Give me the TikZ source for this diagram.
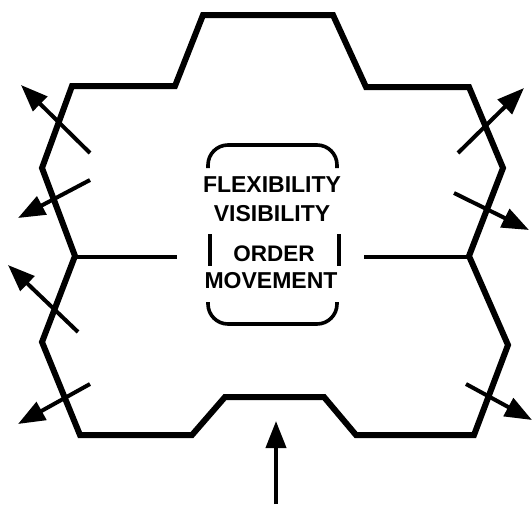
\documentclass[tikz,border=0pt]{standalone}
\usepackage{fontspec}
\setmainfont{Liberation Sans}
\usetikzlibrary{arrows.meta}
\tikzset{
  wall/.style={line width=6pt, line join=miter},
  flow/.style={line width=4pt, -{Triangle[length=27pt,width=20pt]}},
  frame/.style={line width=3.6pt},
  word/.style={font=\bfseries\fontsize{23}{23}\selectfont, inner sep=0pt}
}

\begin{document}
\begin{tikzpicture}[x=1pt,y=-1pt]
\useasboundingbox (0,0) rectangle (532,504);
% outline
\draw[wall] (203,15) -- (333,15) -- (366,87) -- (469,87) -- (503,168) -- (469,256)
  -- (508,345) -- (474,435) -- (356,435) -- (324,397) -- (225,397) -- (192,435)
  -- (80,435) -- (42,342) -- (75,256) -- (42,168) -- (72,86) -- (175,86) -- cycle;
\draw[frame, line width=4.5pt] (75,257) -- (177,257);
\draw[frame, line width=4.5pt] (364,257) -- (469,257);
% arrows out
\draw[flow] (90,153) -- (21,85);
\draw[flow] (90,180) -- (18,218);
\draw[flow] (78,332) -- (8,265);
\draw[flow] (90,384) -- (18,424);
\draw[flow] (458,153) -- (524,88);
\draw[flow] (454,193) -- (529,230);
\draw[flow] (466,384) -- (532,420);
\draw[flow] (276,504) -- (276,421);
% brackets
\draw[frame, rounded corners=20pt] (208,168) -- (208,145) -- (337,145) -- (337,168);
\draw[frame, rounded corners=20pt] (208,302) -- (208,324) -- (337,324) -- (337,302);
\draw[frame] (210,234) -- (210,266);
\draw[frame] (339,234) -- (339,266);
% text
\node[word] (flex) at (272,185) {FLEXIBILITY};
\node[word] (vis) at (272,214) {VISIBILITY};
\node[word, font=\bfseries\fontsize{22.5}{22.5}\selectfont] (ord) at (274,254) {ORDER};
\node[word] (mov) at (271,281) {MOVEMENT};
\end{tikzpicture}
\end{document}
